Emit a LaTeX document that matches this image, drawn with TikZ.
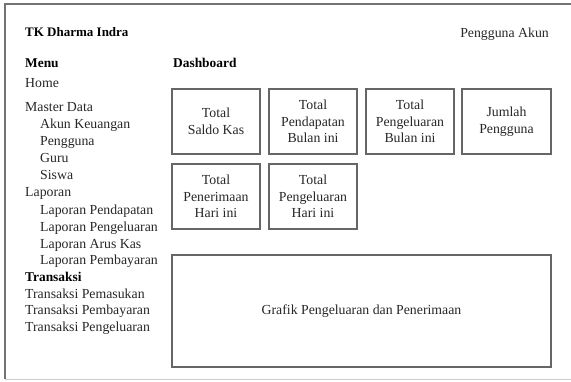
\documentclass[tikz,border=0pt]{standalone}
\usepackage{fontspec}
\setmainfont{Liberation Serif}
\begin{document}
\begin{tikzpicture}[x=1pt,y=-1pt,
  lbl/.style={anchor=west,inner sep=0pt,font=\fontsize{13.8}{16}\selectfont,text=black!85},
  hdr/.style={anchor=west,inner sep=0pt,font=\fontsize{13.4}{16}\selectfont\bfseries,text=black},
  card/.style={draw=black!60,line width=1.1pt,inner sep=0pt,align=center,
    font=\fontsize{13.8}{16.5}\selectfont,text=black!85}]
\useasboundingbox (0,0) rectangle (571,381);
\draw[black!55,line width=1.2pt] (590,4) -- (5,4) -- (5,379);
\draw[black!20,line width=1pt] (5,379) -- (590,379);
\node[hdr,font=\fontsize{13}{15}\selectfont\bfseries] (title) at (25,32) {TK Dharma Indra};
\node[anchor=east,inner sep=0pt,font=\fontsize{13.8}{16}\selectfont,text=black!85] (user) at (549,34) {Pengguna Akun};
\node[hdr] (menu) at (25,63) {Menu};
\node[hdr] (dash) at (173,63) {Dashboard};
\node[lbl] (home) at (25,83) {Home};
\node[lbl] (md) at (25,107) {Master Data};
\node[lbl] (ak) at (40,125) {Akun Keuangan};
\node[lbl] (pg) at (40,142) {Pengguna};
\node[lbl] (guru) at (40,158) {Guru};
\node[lbl] (siswa) at (40,175) {Siswa};
\node[lbl] (lap) at (25,193) {Laporan};
\node[lbl] (lp1) at (40,211) {Laporan Pendapatan};
\node[lbl] (lp2) at (40,228) {Laporan Pengeluaran};
\node[lbl] (lp3) at (40,245) {Laporan Arus Kas};
\node[lbl] (lp4) at (40,261) {Laporan Pembayaran};
\node[hdr] (tr) at (25,277) {Transaksi};
\node[lbl] (t1) at (25,294) {Transaksi Pemasukan};
\node[lbl] (t2) at (25,311) {Transaksi Pembayaran};
\node[lbl] (t3) at (25,328) {Transaksi Pengeluaran};
\draw[card] (172,89) rectangle (260,154) node[midway] (c1) {Total\\Saldo Kas};
\draw[card] (269,89) rectangle (357,154) node[midway] (c2) {Total\\Pendapatan\\Bulan ini};
\draw[card] (366,89) rectangle (454,154) node[midway] (c3) {Total\\Pengeluaran\\Bulan ini};
\draw[card] (462,89) rectangle (551,154) node[midway] (c4) {Jumlah\\Pengguna};
\draw[card] (172,164) rectangle (260,229) node[midway] (c5) {Total\\Penerimaan\\Hari ini};
\draw[card] (269,164) rectangle (357,229) node[midway] (c6) {Total\\Pengeluaran\\Hari ini};
\draw[card] (172,255) rectangle (551,367) node[midway] (g) {Grafik Pengeluaran dan Penerimaan};
\end{tikzpicture}
\end{document}
